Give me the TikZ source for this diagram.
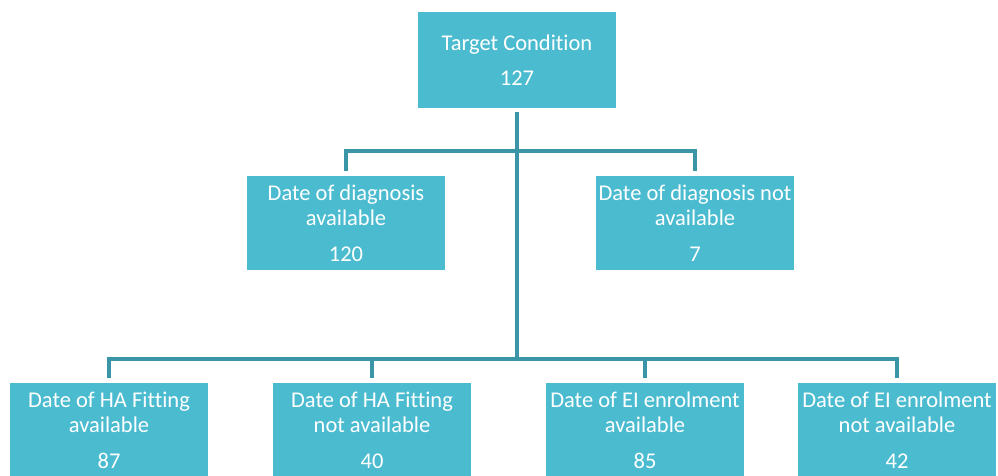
\documentclass[tikz,border=0pt]{standalone}
\usepackage{fontspec}
\setmainfont{Carlito}[Ligatures=NoCommon]
\definecolor{boxfill}{RGB}{75,187,208}
\definecolor{linec}{RGB}{58,150,166}
\begin{document}
\begin{tikzpicture}[x=1pt,y=-1pt,
  box/.style={fill=boxfill, text=white, minimum width=198pt, minimum height=94pt,
    inner sep=0pt, align=center, font=\fontsize{22.5}{25}\selectfont},
  conn/.style={draw=linec, line width=4pt}]
\useasboundingbox (0,0) rectangle (998,475);
\node[box, minimum height=96pt] (top) at (517,60) {Target Condition\\[10pt]127};
\node[box] (mL) at (346,223) {Date of diagnosis\\available\\[11pt]120};
\node[box] (mR) at (695,223) {Date of diagnosis not\\available\\[11pt]7};
\node[box] (b1) at (109,430) {Date of HA Fitting\\available\\[11pt]87};
\node[box] (b2) at (372,430) {Date of HA Fitting\\not available\\[11pt]40};
\node[box] (b3) at (645,430) {Date of EI enrolment\\available\\[11pt]85};
\node[box] (b4) at (897,430) {Date of EI enrolment\\not available\\[11pt]42};
\coordinate (h1) at (517,151);
\coordinate (h2) at (517,359);
\draw[conn, shorten <=4pt] (top.south) -- (h2);
\draw[conn, shorten >=5pt] (h1) -| (mL.north);
\draw[conn, shorten >=5pt] (h1) -| (mR.north);
\draw[conn, shorten >=5pt] (h2) -| (b1.north);
\draw[conn, shorten >=5pt] (h2) -| (b2.north);
\draw[conn, shorten >=5pt] (h2) -| (b3.north);
\draw[conn, shorten >=5pt] (h2) -| (b4.north);
\end{tikzpicture}
\end{document}
